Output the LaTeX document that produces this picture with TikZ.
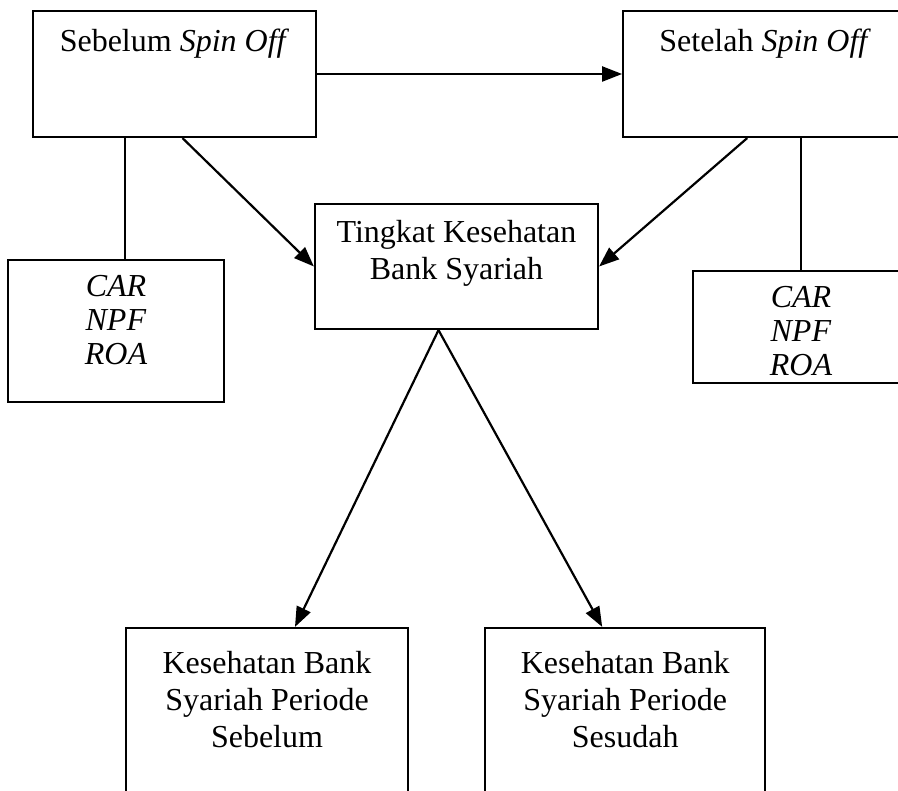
\documentclass[tikz,border=0pt]{standalone}
\usepackage{fontspec}
\setmainfont{Liberation Serif}
\usepackage{tikz}
\usetikzlibrary{
  arrows.meta,
  positioning,
}
\tikzstyle{arrow} = [
  -{Triangle[length=20pt, width=15pt]},
  line width=2.2pt,
]
\begin{document}
\begin{tikzpicture}[x=1pt, y=-1pt,
    box/.style={draw, line width=2.2pt, align=center, inner sep=0pt,
                font=\fontsize{32}{37}\selectfont},
    link/.style={line width=2.2pt}]
    \clip (0,0) rectangle (898,791);
    \node [box, minimum width=283pt, text height=41pt, text depth=85pt]
          (sebelum) at (174.5,74) {Sebelum \textit{Spin Off}};
    \node [box, minimum width=284pt, text height=41pt, text depth=85pt,
           right=305pt of sebelum] (setelah) {Setelah \textit{Spin Off}};
    \node [box, minimum width=283pt, text height=76pt, text depth=49pt]
          (tingkat) at (456.5,266.5) {Tingkat Kesehatan\\Bank Syariah};
    \node [box, minimum width=216pt, text height=105pt, text depth=37pt,
           font=\fontsize{32}{34}\selectfont]
          (carkiri) at (116,331) {\textit{CAR}\\\textit{NPF}\\\textit{ROA}};
    \node [box, minimum width=216pt, text height=105pt, text depth=7pt,
           font=\fontsize{32}{34}\selectfont]
          (carkanan) at (801,327) {\textit{CAR}\\\textit{NPF}\\\textit{ROA}};
    \node [box, minimum width=282pt, text height=119pt, text depth=61pt]
          (periodekiri) at (267,718) {Kesehatan Bank\\Syariah Periode\\Sebelum};
    \node [box, minimum width=280pt, text height=119pt, text depth=61pt,
           right=75pt of periodekiri]
          (periodekanan) {Kesehatan Bank\\Syariah Periode\\Sesudah};
    % garis dan panah
    \draw [arrow] (sebelum) -- (setelah);
    \draw [link] ([xshift=9pt]carkiri.north |- sebelum.south)
          -- ([xshift=9pt]carkiri.north);
    \draw [link] (carkanan.north |- setelah.south) -- (carkanan.north);
    \draw [arrow] ([xshift=8pt]sebelum.south) -- (tingkat.west);
    \draw [arrow] ([xshift=-18pt]setelah.south) -- (tingkat.east);
    \draw [arrow] ([xshift=-18pt]tingkat.south)
          -- ([xshift=28pt]periodekiri.north);
    \draw [arrow] ([xshift=-18pt]tingkat.south)
          -- ([xshift=-23pt]periodekanan.north);
  \end{tikzpicture}
\end{document}
